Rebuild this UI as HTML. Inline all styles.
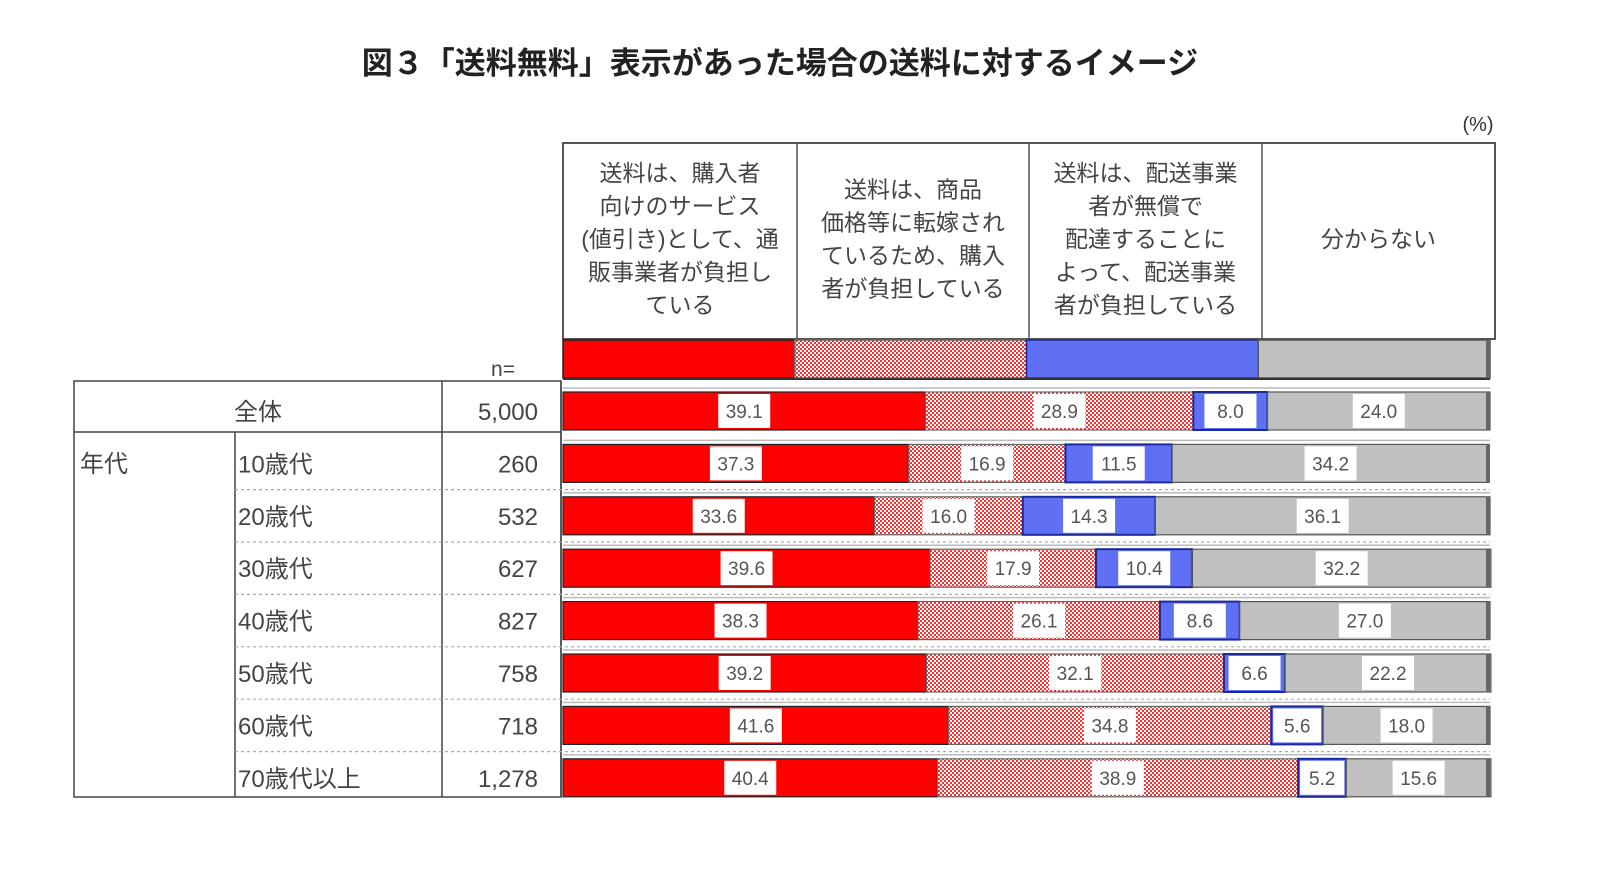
<!DOCTYPE html>
<html><head><meta charset="utf-8">
<style>
html,body{margin:0;padding:0;background:#fff;}
svg{display:block;font-family:"Liberation Sans","Noto Sans CJK JP",sans-serif;}
</style></head>
<body>
<svg id="chart" width="1600" height="873" viewBox="0 0 1600 873" xmlns="http://www.w3.org/2000/svg">
<defs>
<pattern id="dots" width="4" height="4" patternUnits="userSpaceOnUse">
<rect width="4" height="4" fill="#ffffff"/>
<rect width="2" height="2" fill="#ff3030"/>
<rect x="2" y="2" width="2" height="2" fill="#ff3030"/>
</pattern>
</defs>
<text x="780" y="74" text-anchor="middle" font-size="31" font-weight="bold" fill="#222">図３「送料無料」表示があった場合の送料に対するイメージ</text>
<text x="1478" y="131" text-anchor="middle" font-size="20" fill="#333">(%)</text>

<g id="header"></g>
<g id="legend"></g>
<g id="table"></g>
<g id="bars"></g>
</svg>
<script>
const categories = ["全体","10歳代","20歳代","30歳代","40歳代","50歳代","60歳代","70歳代以上"];
const nValues = ["5,000","260","532","627","827","758","718","1,278"];
const seriesNames = [
 ["送料は、購入者","向けのサービス","(値引き)として、通","販事業者が負担し","ている"],
 ["送料は、商品","価格等に転嫁され","ているため、購入","者が負担している"],
 ["送料は、配送事業","者が無償で","配達することに","よって、配送事業","者が負担している"],
 ["分からない"]
];
const s1 = [39.1,37.3,33.6,39.6,38.3,39.2,41.6,40.4];
const s2 = [28.9,16.9,16.0,17.9,26.1,32.1,34.8,38.9];
const s3 = [8.0,11.5,14.3,10.4,8.6,6.6,5.6,5.2];
const s4 = [24.0,34.2,36.1,32.2,27.0,22.2,18.0,15.6];

const NS="http://www.w3.org/2000/svg";
const X0=563, X1=1490, W=X1-X0;
const xScale = v => X0 + v/100*W;
const rowY0=411, pitch=52.4, barH=38;
const yScale = i => rowY0 + i*pitch;
const fills=["#ff0000","url(#dots)","#6070f5","#c0c0c0"];
const strokes=["#222","#666","#1a2a9a","#555"];
function mk(tag,attrs,parent){const e=document.createElementNS(NS,tag);for(const k in attrs)e.setAttribute(k,attrs[k]);parent.appendChild(e);return e;}

// header
const hg=document.getElementById('header');
const hTop=143, hBot=339;
const hx=[563,797,1029,1262,1495];
mk('rect',{x:hx[0],y:hTop,width:hx[4]-hx[0],height:hBot-hTop,fill:"#fff",stroke:"#555","stroke-width":2},hg);
for(let i=1;i<4;i++) mk('line',{x1:hx[i],y1:hTop,x2:hx[i],y2:hBot,stroke:"#555","stroke-width":1.5},hg);
seriesNames.forEach((lines,j)=>{
  const cx=(hx[j]+hx[j+1])/2, lh=33;
  const startY=(hTop+hBot)/2 - (lines.length-1)*lh/2 - 2;
  lines.forEach((t,k)=>{
    const e=mk('text',{x:cx,y:startY+k*lh+8,"text-anchor":"middle","font-size":23,fill:"#444"},hg);
    
    
    e.textContent=t;
  });
});
// legend
const lg=document.getElementById('legend');
for(let j=0;j<4;j++){
  const r=mk('rect',{x:X0+j*W/4,y:340,width:W/4,height:38,fill:fills[j],stroke:strokes[j],"stroke-width":1.5},lg);
  
  
}
mk('line',{x1:X0,y1:379,x2:X1,y2:379,stroke:"#333","stroke-width":2},lg);
mk('rect',{x:X1-4,y:340,width:4,height:38,fill:"#666"},lg);

// table
const tg=document.getElementById('table');
const tL=74, tT=381, tB=797, c1=235, c2=442, c3=561;
mk('rect',{x:tL,y:tT,width:c3-tL,height:tB-tT,fill:"none",stroke:"#444","stroke-width":1.5},tg);
mk('line',{x1:tL,y1:432,x2:c3,y2:432,stroke:"#444","stroke-width":1.5},tg);
mk('line',{x1:c1,y1:432,x2:c1,y2:tB,stroke:"#444","stroke-width":1.5},tg);
mk('line',{x1:c2,y1:tT,x2:c2,y2:tB,stroke:"#444","stroke-width":1.5},tg);
mk('line',{x1:c3,y1:tT,x2:c3,y2:tB,stroke:"#444","stroke-width":1.5},tg);
const nh=mk('text',{x:503,y:376,"text-anchor":"middle","font-size":21,fill:"#444"},tg);nh.textContent="n=";
const ag=mk('text',{x:80,y:472,"font-size":24,fill:"#444"},tg);


ag.textContent="年代";
categories.forEach((c,i)=>{
  const y=yScale(i);
  if(i>=2) mk('line',{x1:c1,y1:y-pitch/2,x2:X1,y2:y-pitch/2,stroke:"#aaa","stroke-width":1.2,"stroke-dasharray":"3,3"},tg);
  const t=mk('text',{x:i===0?(tL+c2)/2:c1+3,y:y+9,"text-anchor":i===0?"middle":"start","font-size":24,fill:"#444"},tg);
  
  
  t.textContent=c;
  const n=mk('text',{x:538,y:y+9,"text-anchor":"end","font-size":24,fill:"#444"},tg);
  
  
  n.textContent=nValues[i];
});

// bars
const bg=document.getElementById('bars');
const series=[s1,s2,s3,s4];
categories.forEach((c,i)=>{
  const y=yScale(i);
  mk('line',{x1:X0,y1:y-barH/2-4,x2:X1,y2:y-barH/2-4,stroke:"#bbb","stroke-width":1.5},bg);
  let cum=0;
  series.forEach((s,j)=>{
    const v=s[i];
    const xa=xScale(cum), xb=xScale(cum+v);
    const r=mk('rect',{x:xa,y:y-barH/2,width:xb-xa,height:barH,fill:fills[j],stroke:strokes[j],"stroke-width":j===2?2:1.2},bg);
    
    
    const cx=(xa+xb)/2;
    const bw=Math.min(52,xb-xa-4);
    mk('rect',{x:cx-bw/2,y:y-barH/2+2,width:bw,height:barH-4,fill:"#fff"},bg);
    const t=mk('text',{x:cx,y:y+7,"text-anchor":"middle","font-size":19,fill:"#555"},bg);
    
    
    t.textContent=v.toFixed(1);
    cum+=v;
  });
  mk('rect',{x:X1-4,y:y-barH/2,width:4,height:barH,fill:"#666"},bg);
});
</script>
</body></html>
